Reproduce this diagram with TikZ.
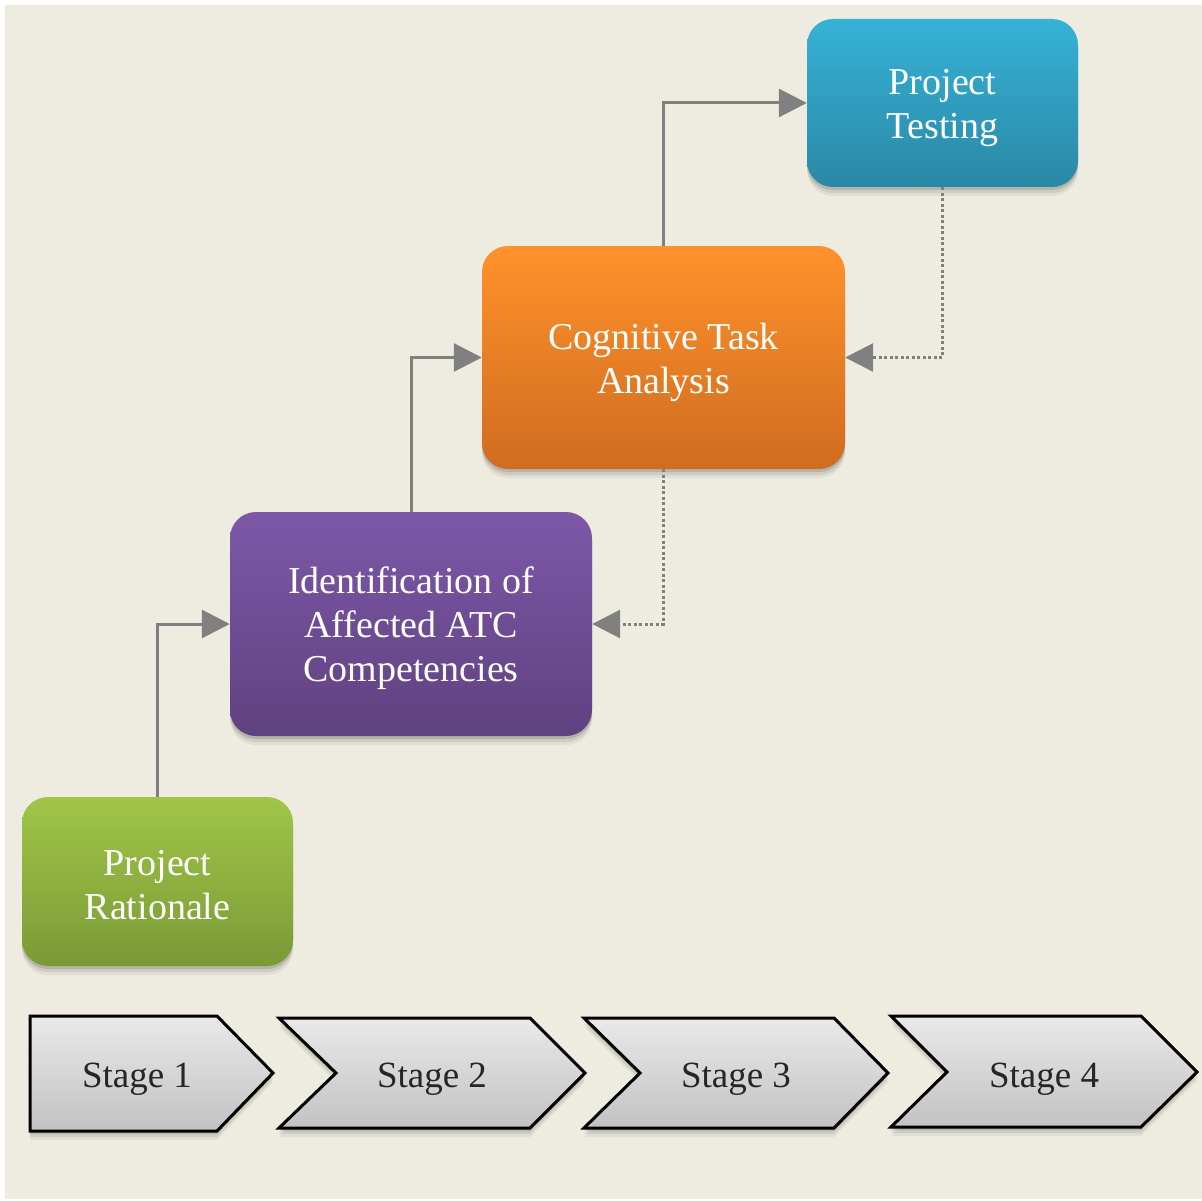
\documentclass[tikz,border=0pt]{standalone}
\usepackage{fontspec}
\setmainfont{Liberation Serif}
\usetikzlibrary{arrows.meta,shadows}
\definecolor{bgc}{HTML}{EEEBE0}
\definecolor{conc}{HTML}{808080}
\definecolor{bluetop}{HTML}{36B2D6}
\definecolor{bluebot}{HTML}{2A88A5}
\definecolor{orgtop}{HTML}{FF922B}
\definecolor{orgbot}{HTML}{D06C20}
\definecolor{purtop}{HTML}{7D58A8}
\definecolor{purbot}{HTML}{604180}
\definecolor{grntop}{HTML}{A0C648}
\definecolor{grnbot}{HTML}{7A9A36}
\definecolor{chtop}{HTML}{E9E9E9}
\definecolor{chbot}{HTML}{C2C2C2}
\tikzset{
  softshadow/.style={
    drop shadow={shadow xshift=0pt,shadow yshift=-9pt,opacity=.05,fill=black},
    drop shadow={shadow xshift=0pt,shadow yshift=-6pt,opacity=.08,fill=black},
    drop shadow={shadow xshift=0pt,shadow yshift=-3pt,opacity=.12,fill=black}},
  stagebox/.style={rounded corners=26pt,inner sep=0pt,softshadow},
  boxtext/.style={inner sep=0pt,align=center,text=white,font=\fontsize{38}{44}\selectfont},
  conn/.style={draw=conc,line width=3pt,-{Triangle[length=28pt,width=28pt]}},
  dconn/.style={draw=conc,line width=3pt,dash pattern=on 3pt off 2.5pt,
    -{Triangle[length=28pt,width=28pt]}},
  chev/.style={draw=black,line width=3pt,line join=miter,top color=chtop,bottom color=chbot,
    softshadow},
  chevtext/.style={text=black!85,font=\fontsize{37}{44}\selectfont,inner sep=0pt}
}
\begin{document}
\begin{tikzpicture}[x=1pt,y=-1pt]
\useasboundingbox (0,0) rectangle (1202,1201);
\fill[white] (0,0) rectangle (1202,1201);
\fill[bgc] (5,5) rectangle (1202,1199);

% boxes
\node[stagebox,top color=bluetop,bottom color=bluebot,minimum width=271pt,minimum height=168pt]
  (test) at (942.5,103) {};
\node[stagebox,top color=orgtop,bottom color=orgbot,minimum width=363pt,minimum height=223pt]
  (cta) at (663.5,357.5) {};
\node[stagebox,top color=purtop,bottom color=purbot,minimum width=362pt,minimum height=224pt]
  (ident) at (411,624) {};
\node[stagebox,top color=grntop,bottom color=grnbot,minimum width=271pt,minimum height=169pt]
  (rat) at (157.5,881.5) {};
\node[boxtext] (testT) at ([yshift=-5pt]test.center) {Project\\Testing};
\node[boxtext] (ctaT) at ([yshift=-5pt]cta.center) {Cognitive Task\\Analysis};
\node[boxtext] (identT) at ([yshift=-4pt]ident.center) {Identification of\\Affected ATC\\Competencies};
\node[boxtext] (ratT) at ([yshift=-4pt]rat.center) {Project\\Rationale};

% connectors
\draw[conn] (rat.north) |- (ident.west);
\draw[conn] (ident.north) |- (cta.west);
\draw[conn] (cta.north) |- (test.west);
\draw[dconn] (test.south) |- (cta.east);
\draw[dconn] (cta.south) |- (ident.east);

% stage chevrons
\draw[chev] (30,1016) -- (217,1016) -- (273,1073) -- (217,1131) -- (30,1131) -- cycle;
\draw[chev] (279,1018) -- (530,1018) -- (585,1073) -- (530,1128) -- (279,1128) -- (336,1073) -- cycle;
\draw[chev] (584,1018) -- (834,1018) -- (888,1073) -- (834,1128) -- (584,1128) -- (640,1073) -- cycle;
\draw[chev] (891,1016) -- (1141,1016) -- (1197,1072) -- (1141,1127) -- (891,1127) -- (947,1072) -- cycle;
\node[chevtext] (s1) at (137,1079) {Stage 1};
\node[chevtext] (s2) at (432,1079) {Stage 2};
\node[chevtext] (s3) at (736,1079) {Stage 3};
\node[chevtext] (s4) at (1044,1079) {Stage 4};
\end{tikzpicture}
\end{document}
